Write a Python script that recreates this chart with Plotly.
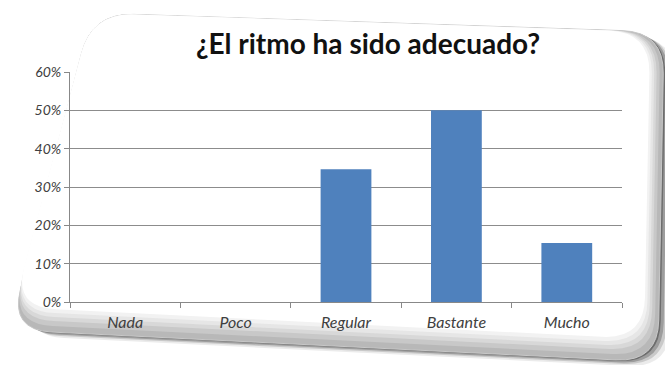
import plotly.graph_objects as go
import math

categories = ["Nada", "Poco", "Regular", "Bastante", "Mucho"]
values = [0.0, 0.0, 0.346, 0.50, 0.154]
y_ticks = [0, 0.1, 0.2, 0.3, 0.4, 0.5, 0.6]
y_tick_labels = ["0%", "10%", "20%", "30%", "40%", "50%", "60%"]
title_text = "¿El ritmo ha sido adecuado?"

W, H = 665, 365

def P(x, y):
    return (x / W, 1 - y / H)

def rounded_path(corners, r):
    n = len(corners)
    segs = []
    for i in range(n):
        p0 = corners[i - 1]
        p1 = corners[i]
        p2 = corners[(i + 1) % n]
        def toward(a, b, d):
            dx, dy = b[0] - a[0], b[1] - a[1]
            L = math.hypot(dx, dy)
            return (a[0] + dx / L * d, a[1] + dy / L * d)
        a = toward(p1, p0, r)
        b = toward(p1, p2, r)
        segs.append((a, p1, b))
    d = ""
    for i, (a, c, b) in enumerate(segs):
        ax, ay = P(*a); cx, cy = P(*c); bx, by = P(*b)
        d += ("M" if i == 0 else "L") + f"{ax:.5f},{ay:.5f} Q{cx:.5f},{cy:.5f} {bx:.5f},{by:.5f} "
    return d + "Z"

card = [(92, 13), (664, 32), (658, 362), (10, 330)]
shapes = []
# shadow layers
for k, op in [(12, 0.08), (8, 0.14), (5, 0.22), (2, 0.3)]:
    sh = [(x + k, y + k * 0.5) for x, y in card]
    shapes.append(dict(type="path", xref="paper", yref="paper", path=rounded_path(sh, 42),
                       fillcolor=f"rgba(0,0,0,{op})", line=dict(width=0), layer="below"))
# thin outline on the left/top edge
shapes.append(dict(type="path", xref="paper", yref="paper", path=rounded_path(card, 42),
                   fillcolor="#b8b8b8", line=dict(width=1, color="#c8c8c8"), layer="below"))
# bevel gradient
steps = [("#c8c8c8", 6), ("#d8d8d8", 11), ("#e6e6e6", 15), ("#f2f2f2", 19), ("#ffffff", 23)]
for col, k in steps:
    c = [(92, 13), (664 - k * 0.6, 32), (658 - k * 0.6, 362 - k), (10 + k * 0.15, 330 - k)]
    shapes.append(dict(type="path", xref="paper", yref="paper", path=rounded_path(c, 42),
                       fillcolor=col, line=dict(width=0), layer="below"))

fig = go.Figure()
fig.add_trace(go.Bar(x=categories, y=values, width=0.46, marker=dict(color="#4F81BD", line=dict(width=0))))

x0, x1 = 70, 622
ytop, ybot = 72, 302
fig.update_layout(
    width=W, height=H,
    margin=dict(l=0, r=0, t=0, b=0),
    paper_bgcolor="white", plot_bgcolor="rgba(0,0,0,0)",
    showlegend=False,
    shapes=shapes,
    title=dict(text=title_text, x=368 / W, y=1 - 44 / H, xanchor="center", yanchor="middle",
               font=dict(family="Lato", size=28, color="#111111", weight="bold")),
    xaxis=dict(domain=[x0 / W, x1 / W], automargin=False, range=[-0.5, 4.5],
               showline=True, linecolor="#888888", linewidth=1,
               ticks="outside", tickson="boundaries", ticklen=5, tickcolor="#888888",
               ticklabelstandoff=6,
               tickfont=dict(family="Lato", size=16, color="#404040", style="italic"),
               showgrid=False, zeroline=False),
    yaxis=dict(domain=[1 - ybot / H, 1 - ytop / H], automargin=False, range=[0, 0.6],
               tickvals=y_ticks, ticktext=y_tick_labels,
               showline=True, linecolor="#888888", linewidth=1,
               ticks="outside", ticklen=5, tickcolor="#888888",
               tickfont=dict(family="Lato", size=14, color="#404040", style="italic"),
               showgrid=True, gridcolor="#8c8c8c", gridwidth=1, zeroline=False),
)
fig.write_html("out.html")
